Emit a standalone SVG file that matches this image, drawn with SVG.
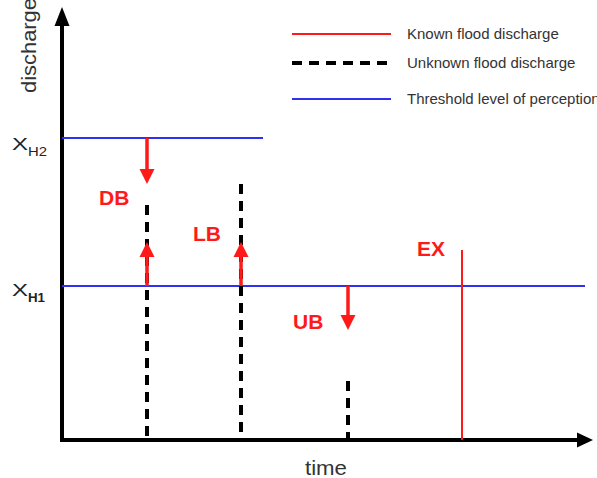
<svg xmlns="http://www.w3.org/2000/svg" width="597" height="478" viewBox="0 0 597 478">
<style>
.ax{stroke:#000;stroke-width:4;fill:none}
.thr{stroke:#3030f0;stroke-width:2;fill:none}
.known{stroke:#ff1a1a;stroke-width:2;fill:none}
.unk{stroke:#000;stroke-width:4;stroke-dasharray:10 7;fill:none}
.shaft{stroke:#ff1a1a;stroke-width:3.5;fill:none}
.head{fill:#ff1a1a}
.lbl{font-family:"Liberation Sans",Arial,sans-serif;font-weight:bold;font-size:21px;fill:#ff1a1a}
.axt{font-family:"Liberation Sans",Arial,sans-serif;font-size:21px;fill:#333}
.leg{font-family:"Liberation Sans",Arial,sans-serif;font-size:15px;fill:#333}
.xl{font-family:"Liberation Sans",Arial,sans-serif;fill:#222}
</style>
<rect width="597" height="478" fill="#fff"/>
<g id="axes">
<line class="ax" x1="62" y1="440" x2="62" y2="24"/>
<polygon points="62,7 54.5,26 69.5,26" fill="#000"/>
<line class="ax" x1="60" y1="440" x2="578" y2="440"/>
<polygon points="593,440 577,432.5 577,447.5" fill="#000"/>
<text class="axt" transform="translate(36,93) rotate(-90)" textLength="95" lengthAdjust="spacingAndGlyphs">discharge</text>
<text class="axt" x="305" y="475" textLength="42" lengthAdjust="spacingAndGlyphs">time</text>
</g>
<g id="thresholds">
<line class="thr" x1="62" y1="138" x2="263" y2="138"/>
<line class="thr" x1="62" y1="286" x2="585" y2="286"/>
<text class="xl" x="12" y="150" font-size="17" textLength="16" lengthAdjust="spacingAndGlyphs">X</text>
<text class="xl" x="28" y="156" font-size="13" textLength="19" lengthAdjust="spacingAndGlyphs">H2</text>
<text class="xl" x="12" y="296" font-size="17" textLength="16" lengthAdjust="spacingAndGlyphs">X</text>
<text class="xl" x="28" y="302" font-size="13" font-weight="bold" textLength="17" lengthAdjust="spacingAndGlyphs">H1</text>
</g>
<g id="connectors">
<line class="unk" x1="147" y1="205" x2="147" y2="440"/>
<line class="unk" x1="241" y1="184" x2="241" y2="440"/>
<line class="unk" x1="348" y1="381" x2="348" y2="440"/>
<line class="known" x1="462" y1="250" x2="462" y2="440"/>
</g>
<g id="DB">
<line class="shaft" x1="147" y1="138" x2="147" y2="172"/>
<polygon class="head" points="147,184 139.5,169 154.5,169"/>
<line class="shaft" x1="147" y1="286" x2="147" y2="254"/>
<polygon class="head" points="147,242 139.5,257 154.5,257"/>
<text class="lbl" x="99" y="205">DB</text>
</g>
<g id="LB">
<line class="shaft" x1="241" y1="286" x2="241" y2="254"/>
<polygon class="head" points="241,242 233.5,257 248.5,257"/>
<text class="lbl" x="193" y="241">LB</text>
</g>
<g id="UB">
<line class="shaft" x1="348" y1="286" x2="348" y2="318"/>
<polygon class="head" points="348,330 340.5,315 355.5,315"/>
<text class="lbl" x="293" y="329">UB</text>
</g>
<g id="EX">
<text class="lbl" x="417" y="256">EX</text>
</g>
<g id="legend">
<line class="known" x1="292" y1="34" x2="391" y2="34"/>
<line class="unk" x1="292" y1="63" x2="391" y2="63" stroke-dasharray="11 6"/>
<line class="thr" x1="292" y1="99" x2="391" y2="99"/>
<text class="leg" x="407" y="39">Known flood discharge</text>
<text class="leg" x="407" y="68">Unknown flood discharge</text>
<text class="leg" x="407" y="104">Threshold level of perception</text>
</g>
</svg>
